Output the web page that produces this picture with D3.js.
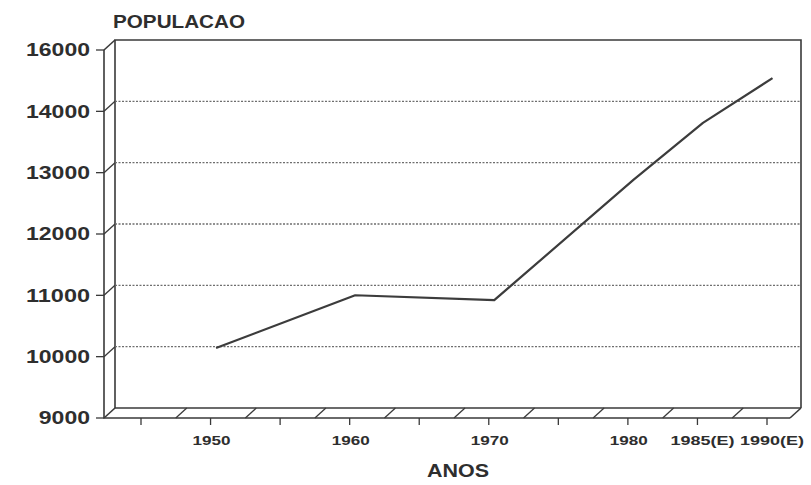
<!DOCTYPE html>
<html>
<head>
<meta charset="utf-8">
<script src="https://cdn.jsdelivr.net/npm/d3@7"></script>
<style>
  html, body { margin: 0; padding: 0; background: #fff; }
  svg { display: block; }
  text { font-family: "Liberation Sans", Arial, sans-serif; font-weight: bold; fill: #2e2e2e; }
</style>
</head>
<body>
<svg id="chart" width="811" height="485"></svg>
<script>
// Population by census year (1985 and 1990 are estimates)
const years = [1950, 1960, 1970, 1980, 1985, 1990];
const yearLabels = ["1950", "1960", "1970", "1980", "1985(E)", "1990(E)"];
const population = [10060, 10920, 10840, 12800, 13730, 14460];

// Vertical axis ticks as printed on the chart
const yTickValues = [9000, 10000, 11000, 12000, 13000, 14000, 15000];
const yTickLabels = ["9000", "10000", "11000", "12000", "13000", "14000", "16000"];
const gridValues = [10000, 11000, 12000, 13000, 14000];

// Minor ticks along the year axis, every five years
const xTickYears = d3.range(1945, 1991, 5);
// Floor separators between tick slots
const floorYears = d3.range(1947.5, 1990, 5);

const svg = d3.select("#chart");
const ink = "#3a3a3a";

// Front plane scales
const x = d3.scaleLinear().domain([1945, 1990]).range([141, 767]);
const y = d3.scaleLinear().domain([9000, 15000]).range([418, 50]);

// Depth offset of the back wall
const dx = 11, dy = -10;

const xLeft = x.invert(104);
const xRight = x.invert(790);

const X0 = x(xLeft), X1 = x(xRight);
const Y0 = y(9000), Y1 = y(15000);

// Back wall and floor outline
const frame = svg.append("g")
  .attr("fill", "none")
  .attr("stroke", ink)
  .attr("stroke-width", 1.6);

// back wall: left edge, top, right edge
frame.append("path")
  .attr("d", d3.line()([
    [X0 + dx, Y0 + dy], [X0 + dx, Y1 + dy], [X1 + dx, Y1 + dy], [X1 + dx, Y0 + dy]
  ]));
// back floor edge
frame.append("line")
  .attr("x1", X0 + dx).attr("y1", Y0 + dy)
  .attr("x2", X1 + dx).attr("y2", Y0 + dy);
// front axis line and front floor edge
frame.append("path")
  .attr("d", d3.line()([[X0, Y1], [X0, Y0], [X1, Y0]]));
// corner connectors
frame.append("path")
  .attr("d", d3.line()([[X0, Y1], [X0 + dx, Y1 + dy]]));
frame.append("path")
  .attr("d", d3.line()([[X0, Y0], [X0 + dx, Y0 + dy]]));
frame.append("path")
  .attr("d", d3.line()([[X1, Y0], [X1 + dx, Y0 + dy]]));

// Dotted gridlines on the back wall
svg.append("g")
  .selectAll("line")
  .data(gridValues)
  .join("line")
  .attr("x1", X0 + dx)
  .attr("x2", X1 + dx)
  .attr("y1", d => y(d) + dy)
  .attr("y2", d => y(d) + dy)
  .attr("stroke", "#6e6e6e")
  .attr("stroke-width", 1.3)
  .attr("stroke-dasharray", "2,1.5");

// Vertical axis ticks and their connectors to the back wall
const yTicks = svg.append("g").attr("stroke", ink).attr("stroke-width", 1.3).attr("fill", "none");
yTicks.selectAll("line.tick")
  .data(yTickValues)
  .join("line")
  .attr("class", "tick")
  .attr("x1", X0 - 8).attr("x2", X0)
  .attr("y1", d => y(d)).attr("y2", d => y(d));
yTicks.selectAll("line.conn")
  .data(yTickValues.slice(1, -1))
  .join("line")
  .attr("class", "conn")
  .attr("x1", X0).attr("x2", X0 + dx)
  .attr("y1", d => y(d)).attr("y2", d => y(d) + dy);

svg.append("g")
  .selectAll("text")
  .data(yTickValues)
  .join("text")
  .attr("x", X0 - 14)
  .attr("y", d => y(d))
  .attr("dy", "0.36em")
  .attr("text-anchor", "end")
  .attr("font-size", 18)
  .attr("textLength", (d, i) => yTickLabels[i].length * 12.8)
  .attr("lengthAdjust", "spacingAndGlyphs")
  .text((d, i) => yTickLabels[i]);

// Year axis ticks below the floor
svg.append("g")
  .selectAll("line")
  .data(xTickYears)
  .join("line")
  .attr("x1", d => x(d)).attr("x2", d => x(d))
  .attr("y1", Y0).attr("y2", Y0 + 7)
  .attr("stroke", ink)
  .attr("stroke-width", 1.3);

// Floor separators
svg.append("g")
  .selectAll("line")
  .data(floorYears)
  .join("line")
  .attr("x1", d => x(d)).attr("y1", Y0)
  .attr("x2", d => x(d) + dx).attr("y2", Y0 + dy)
  .attr("stroke", ink)
  .attr("stroke-width", 1.3);

// Year labels
svg.append("g")
  .selectAll("text")
  .data(years)
  .join("text")
  .attr("x", (d, i) => x(d) + (i >= 4 ? 5 : 1))
  .attr("y", 445)
  .attr("text-anchor", "middle")
  .attr("font-size", 12)
  .attr("textLength", (d, i) => yearLabels[i].length > 4 ? 64 : 38)
  .attr("lengthAdjust", "spacingAndGlyphs")
  .text((d, i) => yearLabels[i]);

// Population line, drawn at mid depth
const line = d3.line()
  .x((d, i) => x(years[i]) + dx / 2)
  .y(d => y(d) + dy / 2);

svg.append("path")
  .datum(population)
  .attr("d", line)
  .attr("fill", "none")
  .attr("stroke", "#3c3c3c")
  .attr("stroke-width", 2.2)
  .attr("stroke-linejoin", "round");

// Titles
svg.append("text")
  .attr("x", 113)
  .attr("y", 28)
  .attr("font-size", 18)
  .attr("textLength", 132)
  .attr("lengthAdjust", "spacingAndGlyphs")
  .text("POPULACAO");

svg.append("text")
  .attr("x", 458)
  .attr("y", 477)
  .attr("text-anchor", "middle")
  .attr("font-size", 18)
  .attr("textLength", 62)
  .attr("lengthAdjust", "spacingAndGlyphs")
  .text("ANOS");
</script>
</body>
</html>
